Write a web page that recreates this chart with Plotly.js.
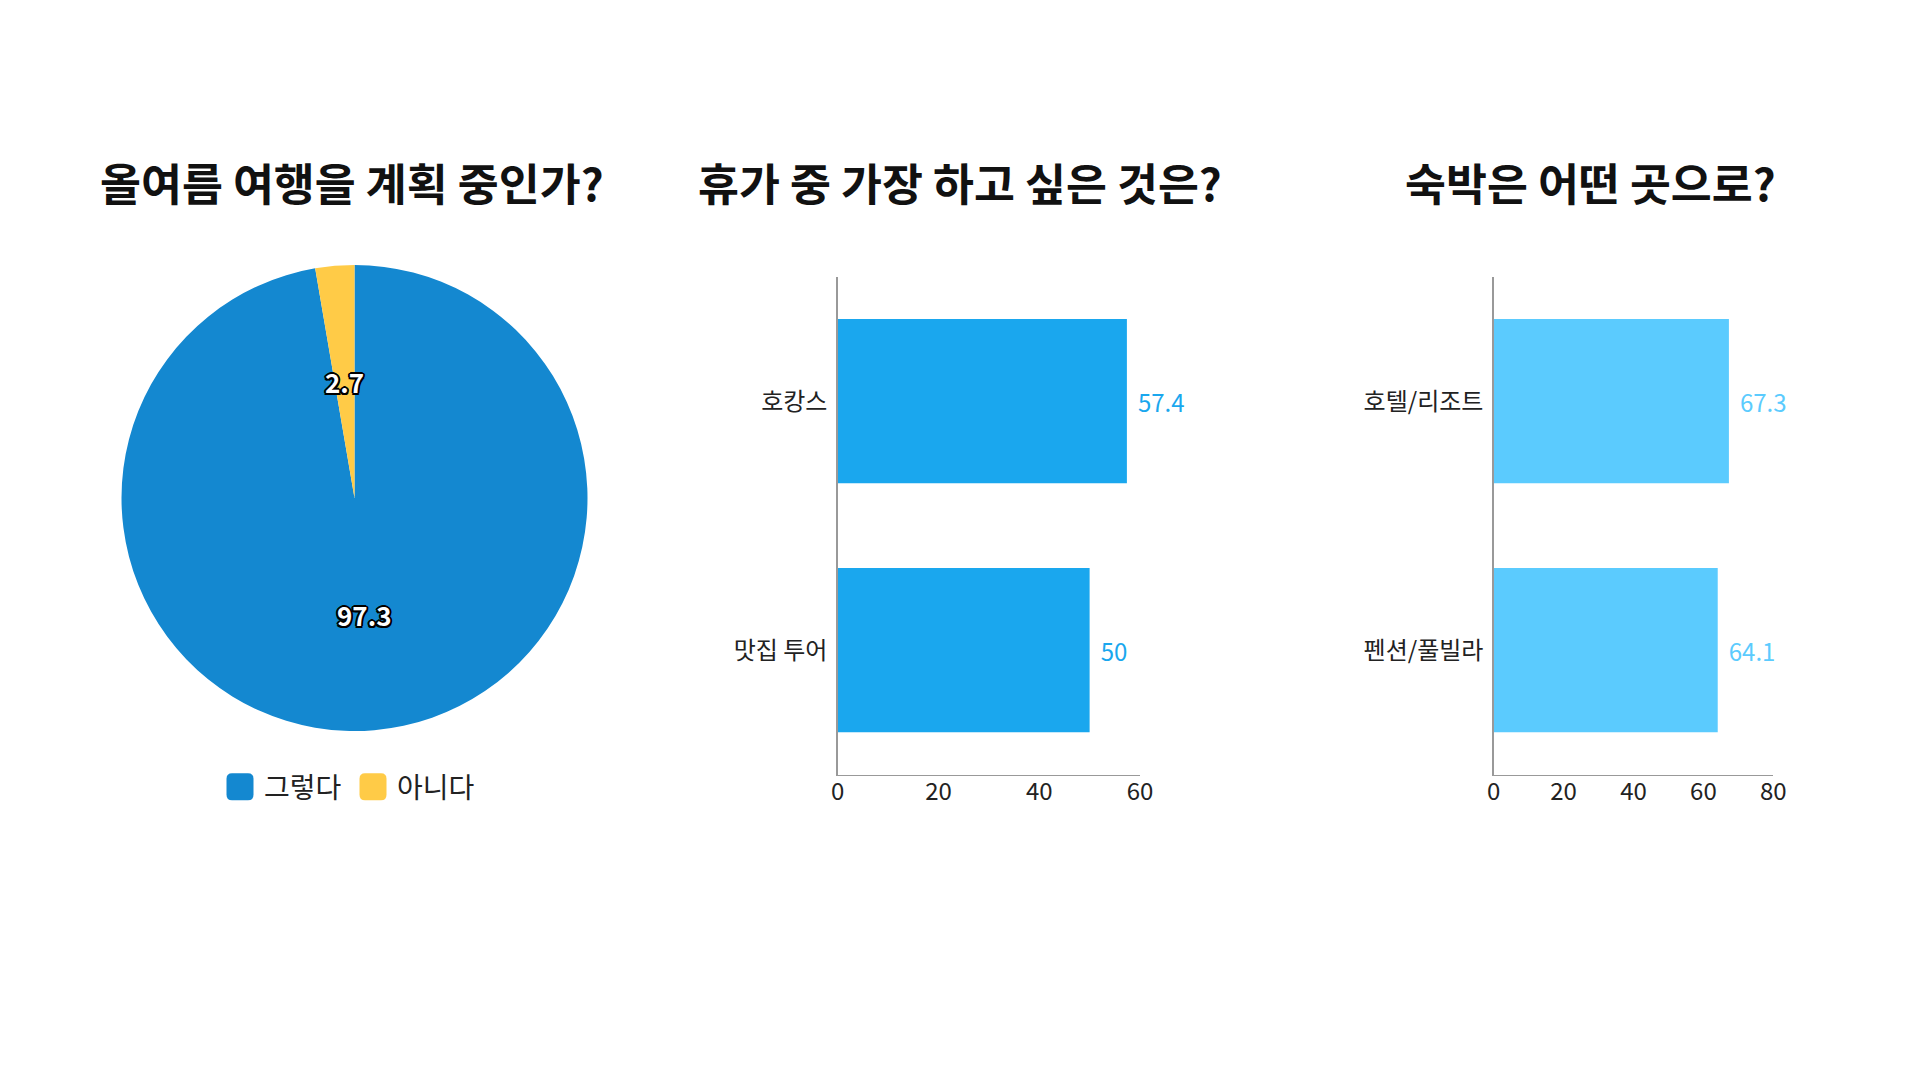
<!DOCTYPE html>
<html>
<head>
<meta charset="utf-8">
<script src="https://cdn.plot.ly/plotly-3.0.1.min.js"></script>
<style>
  html, body { margin: 0; padding: 0; background: #ffffff; }
  #chart { width: 1920px; height: 1080px; }
</style>
</head>
<body>
<div id="chart"></div>
<script>
// ---- data ----
const chartTitles = ['올여름 여행을 계획 중인가?', '휴가 중 가장 하고 싶은 것은?', '숙박은 어떤 곳으로?'];

const pieLabels = ['그렇다', '아니다'];
const pieValues = [97.3, 2.7];
const pieColors = ['#1488D0', '#FFCB47'];

const activityLabels = ['호캉스', '맛집 투어'];
const activityValues = [57.4, 50];

const stayLabels = ['호텔/리조트', '펜션/풀빌라'];
const stayValues = [67.3, 64.1];

const activityTicks = [0, 20, 40, 60];
const stayTicks = [0, 20, 40, 60, 80];

// ---- styling ----
const FONT = '"Noto Sans CJK KR", "Noto Sans", sans-serif';
const W = 1920, H = 1080;
const pieDomX = [121.5 / W, 587.5 / W];
const pieDomY = [349 / H, 815 / H];
const barDomY = [(H - 774.7) / H, (H - 276.7) / H];

const pieTrace = {
  type: 'pie',
  labels: pieLabels,
  values: pieValues,
  marker: { colors: pieColors, line: { width: 0 } },
  sort: false,
  direction: 'clockwise',
  rotation: 0,
  textinfo: 'none',
  hoverinfo: 'label+value',
  domain: { x: pieDomX, y: pieDomY },
  showlegend: true
};

const bar1 = {
  type: 'bar',
  orientation: 'h',
  x: activityValues,
  y: activityLabels,
  xaxis: 'x', yaxis: 'y',
  marker: { color: '#1AA7EE' },
  text: activityValues.map(v => '\u2004' + v),
  textposition: 'outside',
  textfont: { family: FONT, size: 24, color: '#1AA7EE' },
  cliponaxis: false,
  showlegend: false,
  hoverinfo: 'y+x'
};

const bar2 = {
  type: 'bar',
  orientation: 'h',
  x: stayValues,
  y: stayLabels,
  xaxis: 'x2', yaxis: 'y2',
  marker: { color: '#5BCBFE' },
  text: stayValues.map(v => '\u2004' + v),
  textposition: 'outside',
  textfont: { family: FONT, size: 24, color: '#5BCBFE' },
  cliponaxis: false,
  showlegend: false,
  hoverinfo: 'y+x'
};

const axisCommon = {
  showgrid: false,
  zeroline: false,
  showline: true,
  linecolor: '#999999',
  linewidth: 1.5,
  ticks: '',
  tickfont: { family: FONT, size: 24, color: '#222222' },
  fixedrange: true
};

// pie value labels, placed at half radius along each slice's mid angle
const pieCx = (pieDomX[0] + pieDomX[1]) / 2;
const pieCy = (pieDomY[0] + pieDomY[1]) / 2;
const pieRpx = Math.min((pieDomX[1] - pieDomX[0]) * W, (pieDomY[1] - pieDomY[0]) * H) / 2;
const pieTotal = pieValues.reduce((a, b) => a + b, 0);
let cum = 0;
const pieLabelAnns = pieValues.map(v => {
  const mid = (cum + v / 2) / pieTotal * 2 * Math.PI;
  cum += v;
  return {
    xref: 'paper', yref: 'paper',
    x: pieCx + 0.5 * pieRpx * Math.sin(mid) / W,
    y: pieCy + 0.5 * pieRpx * Math.cos(mid) / H,
    xanchor: 'center', yanchor: 'middle',
    text: String(v),
    showarrow: false,
    font: {
      family: FONT, size: 26, color: '#ffffff', weight: 700,
      shadow: '2px 0 0 #000, -2px 0 0 #000, 0 2px 0 #000, 0 -2px 0 #000, 1.5px 1.5px 0 #000, -1.5px -1.5px 0 #000, 1.5px -1.5px 0 #000, -1.5px 1.5px 0 #000'
    }
  };
});

const titleXs = [352 / W, 959.5 / W, 1590.6 / W];
const titleAnns = chartTitles.map((t, i) => ({
  xref: 'paper', yref: 'paper',
  x: titleXs[i], y: (H - 181.5) / H,
  xanchor: 'center', yanchor: 'middle',
  text: t,
  showarrow: false,
  font: { family: FONT, size: 44.5, color: '#111111', weight: 700 }
}));

const layout = {
  width: W, height: H,
  margin: { l: 0, r: 0, t: 0, b: 0, pad: 0 },
  paper_bgcolor: '#ffffff',
  plot_bgcolor: 'rgba(0,0,0,0)',
  font: { family: FONT, color: '#222222' },
  bargap: 0.34,
  showlegend: true,
  legend: {
    orientation: 'h',
    x: 357 / W, xanchor: 'center',
    y: (H - 787) / H, yanchor: 'middle',
    font: { family: FONT, size: 28, color: '#222222' },
    entrywidth: 88,
    bgcolor: 'rgba(0,0,0,0)',
    itemclick: false, itemdoubleclick: false
  },
  xaxis: Object.assign({}, axisCommon, {
    domain: [837.7 / W, 1140 / W],
    range: [0, 60],
    tickvals: activityTicks,
    anchor: 'y',
    ticklabelstandoff: -5
  }),
  yaxis: Object.assign({}, axisCommon, {
    domain: barDomY,
    autorange: 'reversed',
    type: 'category',
    anchor: 'x',
    ticklabelstandoff: 4
  }),
  xaxis2: Object.assign({}, axisCommon, {
    domain: [1493.7 / W, 1773.3 / W],
    range: [0, 80],
    tickvals: stayTicks,
    anchor: 'y2',
    ticklabelstandoff: -5
  }),
  yaxis2: Object.assign({}, axisCommon, {
    domain: barDomY,
    autorange: 'reversed',
    type: 'category',
    anchor: 'x2',
    ticklabelstandoff: 4
  }),
  annotations: titleAnns.concat(pieLabelAnns)
};

Plotly.newPlot('chart', [pieTrace, bar1, bar2], layout, { displayModeBar: false, staticPlot: true }).then(gd => {
  // enlarge legend swatches to rounded squares like the reference
  gd.querySelectorAll('.legendpoints path').forEach(p => {
    p.setAttribute('d', 'M-17.5,-8Q-17.5,-13.5 -12,-13.5H4Q9.5,-13.5 9.5,-8V8Q9.5,13.5 4,13.5H-12Q-17.5,13.5 -17.5,8Z');
  });
});
</script>
</body>
</html>
